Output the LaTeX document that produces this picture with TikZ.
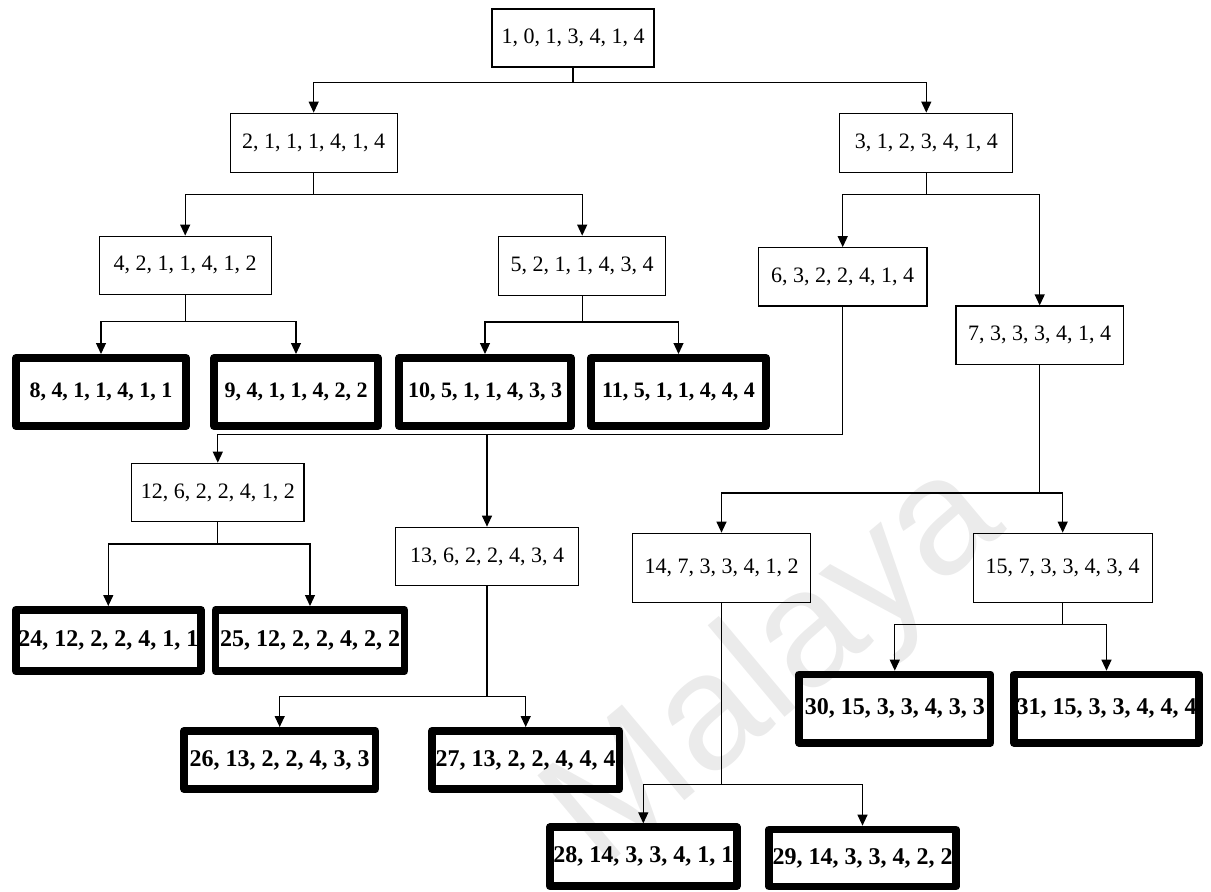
\documentclass[tikz,border=0pt]{standalone}
\usepackage{fontspec}
\setmainfont{Liberation Serif}
\newfontfamily\wmfont{Liberation Sans}
\usetikzlibrary{arrows.meta}
\begin{document}
\begin{tikzpicture}[x=1pt,y=-1pt,
  box/.style={draw=black, line width=1.3pt, inner sep=0pt,
    font=\fontsize{22}{26}\selectfont},
  leaf/.style={draw=black, line width=7.7pt, line join=round, inner sep=0pt,
    font=\fontsize{24}{28}\selectfont\bfseries},
  leafsm/.style={leaf, font=\fontsize{22}{26}\selectfont\bfseries},
  conn/.style={line width=1.2pt},
  arr/.style={conn, -{Triangle[length=11pt,width=10pt]}},
  wm/.style={text=black!8, font=\wmfont\fontsize{165}{165}\selectfont}
]
\useasboundingbox (0,0) rectangle (1211,892);

% faint watermark behind the tree
\node[wm, rotate=40, anchor=base west] (wmark) at (598,874) {Malaya};

% inner nodes
\node[box, minimum width=162pt, minimum height=58pt] (n1) at (573,38) {1, 0, 1, 3, 4, 1, 4};
\node[box, minimum width=167pt, minimum height=59pt] (n2) at (313.7,142.8) {2, 1, 1, 1, 4, 1, 4};
\node[box, minimum width=173pt, minimum height=59pt] (n3) at (926.3,142.8) {3, 1, 2, 3, 4, 1, 4};
\node[box, minimum width=172pt, minimum height=58pt] (n4) at (185.2,265.2) {4, 2, 1, 1, 4, 1, 2};
\node[box, minimum width=167pt, minimum height=59pt] (n5) at (582.2,265.8) {5, 2, 1, 1, 4, 3, 4};
\node[box, minimum width=168.5pt, minimum height=58.3pt] (n6) at (842.7,276.9) {6, 3, 2, 2, 4, 1, 4};
\node[box, minimum width=167.3pt, minimum height=58.3pt] (n7) at (1039.7,335.2) {7, 3, 3, 3, 4, 1, 4};
\node[box, minimum width=172.3pt, minimum height=58.4pt] (n12) at (217.8,492.5) {12, 6, 2, 2, 4, 1, 2};
\node[box, minimum width=182.6pt, minimum height=58.4pt] (n13) at (487,556.5) {13, 6, 2, 2, 4, 3, 4};
\node[box, minimum width=178.4pt, minimum height=69.4pt] (n14) at (721.5,568) {14, 7, 3, 3, 4, 1, 2};
\node[box, minimum width=179pt, minimum height=69.4pt] (n15) at (1062.7,568) {15, 7, 3, 3, 4, 3, 4};

% leaf nodes
\node[leafsm, minimum width=170.3pt, minimum height=68.3pt] (l8) at (101,392) {8, 4, 1, 1, 4, 1, 1};
\node[leafsm, minimum width=164.3pt, minimum height=68.3pt] (l9) at (296,392) {9, 4, 1, 1, 4, 2, 2};
\node[leafsm, minimum width=172.3pt, minimum height=68.3pt] (l10) at (485,392) {10, 5, 1, 1, 4, 3, 3};
\node[leafsm, minimum width=175.3pt, minimum height=68.3pt] (l11) at (678.5,392) {11, 5, 1, 1, 4, 4, 4};
\node[leaf, minimum width=185.3pt, minimum height=61.3pt] (l24) at (108.3,640.5) {24, 12, 2, 2, 4, 1, 1};
\node[leaf, minimum width=188.9pt, minimum height=61.3pt] (l25) at (310,640.5) {25, 12, 2, 2, 4, 2, 2};
\node[leaf, minimum width=191.3pt, minimum height=58.3pt] (l26) at (279.7,760) {26, 13, 2, 2, 4, 3, 3};
\node[leaf, minimum width=187.3pt, minimum height=58.3pt] (l27) at (525.7,760) {27, 13, 2, 2, 4, 4, 4};
\node[leaf, minimum width=187pt, minimum height=59pt] (l28) at (643.3,856.7) {28, 14, 3, 3, 4, 1, 1};
\node[leaf, minimum width=187.3pt, minimum height=57pt] (l29) at (862.5,858) {29, 14, 3, 3, 4, 2, 2};
\node[leaf, minimum width=191.3pt, minimum height=68.3pt] (l30) at (894.8,708.7) {30, 15, 3, 3, 4, 3, 3};
\node[leaf, minimum width=185.3pt, minimum height=68.3pt] (l31) at (1106.5,708.7) {31, 15, 3, 3, 4, 4, 4};

% connectors: a short stem below each parent, then elbows down to the children
\draw[conn] (n1.south) -- ([yshift=-15pt]n1.south) coordinate (b1);
\draw[arr] (b1) -| (n2.north);
\draw[arr] (b1) -| (n3.north);

\draw[conn] (n2.south) -- ([yshift=-21.7pt]n2.south) coordinate (b2);
\draw[arr] (b2) -| (n4.north);
\draw[arr] (b2) -| (n5.north);

\draw[conn] (n3.south) -- ([yshift=-21.7pt]n3.south) coordinate (b3);
\draw[arr] (b3) -| (n6.north);
\draw[arr] (b3) -| (n7.north);

\draw[conn] (n4.south) -- ([yshift=-27pt]n4.south) coordinate (b4);
\draw[arr] (b4) -| (l8.north);
\draw[arr] (b4) -| (l9.north);

\draw[conn] (n5.south) -- ([yshift=-26pt]n5.south) coordinate (b5);
\draw[arr] (b5) -| (l10.north);
\draw[arr] (b5) -| (l11.north);

\draw[conn] (n6.south) -- ([yshift=-128pt]n6.south) coordinate (b6);
\draw[arr] (b6) -| (n12.north);
\draw[arr] (b6) -| (n13.north);

\draw[conn] (n7.south) -- ([yshift=-128pt]n7.south) coordinate (b7);
\draw[arr] (b7) -| (n14.north);
\draw[arr] (b7) -| (n15.north);

\draw[conn] (n12.south) -- ([yshift=-21.6pt]n12.south) coordinate (b12);
\draw[arr] (b12) -| (l24.north);
\draw[arr] (b12) -| (l25.north);

\draw[conn] (n13.south) -- ([yshift=-110pt]n13.south) coordinate (b13);
\draw[arr] (b13) -| (l26.north);
\draw[arr] (b13) -| (l27.north);

\draw[conn] (n14.south) -- ([yshift=-181pt]n14.south) coordinate (b14);
\draw[arr] (b14) -| (l28.north);
\draw[arr] (b14) -| (l29.north);

\draw[conn] (n15.south) -- ([yshift=-21pt]n15.south) coordinate (b15);
\draw[arr] (b15) -| (l30.north);
\draw[arr] (b15) -| (l31.north);
\end{tikzpicture}
\end{document}
